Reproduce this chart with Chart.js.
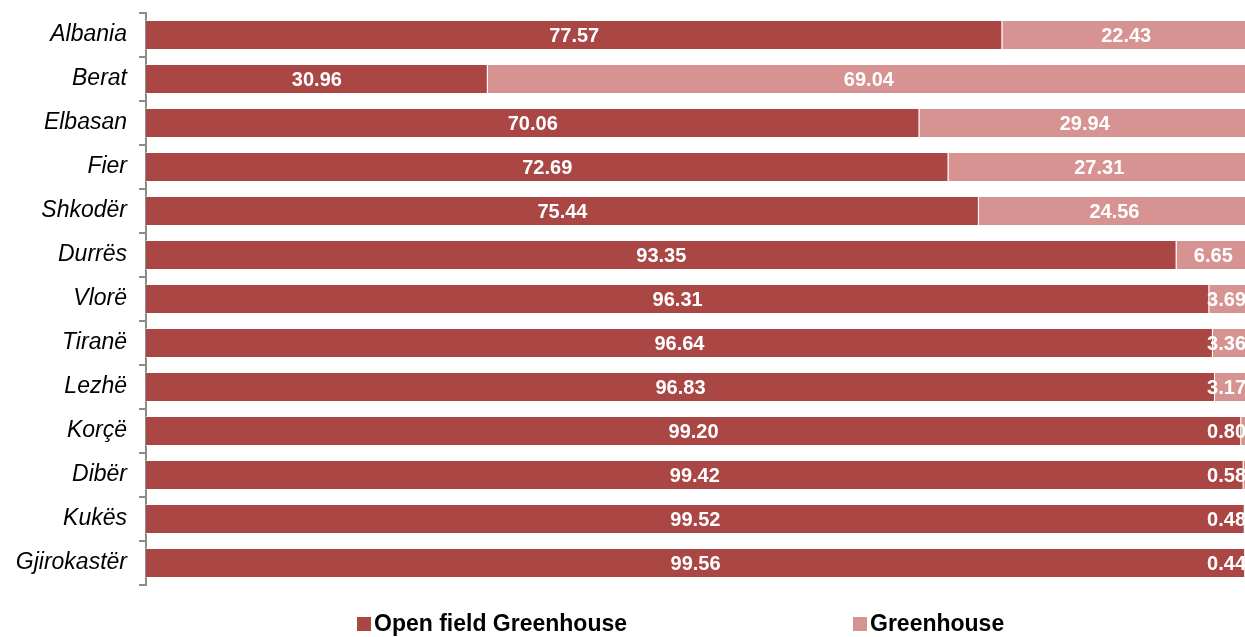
<!DOCTYPE html>
<html>
<head>
<meta charset="utf-8">
<script src="https://cdn.jsdelivr.net/npm/chart.js@4.4.1/dist/chart.umd.min.js"></script>
<style>
    html, body { margin: 0; padding: 0; background: #fff; overflow: hidden; }
    #wrap { width: 1252px; height: 637px; }
</style>
</head>
<body>
<div id="wrap"><canvas id="shareChart"></canvas></div>
<script>
// Share of vegetable area by district (%)
const districts = ['Albania', 'Berat', 'Elbasan', 'Fier', 'Shkodër', 'Durrës', 'Vlorë',
    'Tiranë', 'Lezhë', 'Korçë', 'Dibër', 'Kukës', 'Gjirokastër'];
const openField = [77.57, 30.96, 70.06, 72.69, 75.44, 93.35, 96.31, 96.64, 96.83, 99.20, 99.42, 99.52, 99.56];
const greenhouse = [22.43, 69.04, 29.94, 27.31, 24.56, 6.65, 3.69, 3.36, 3.17, 0.80, 0.58, 0.48, 0.44];
const seriesNames = ['Open field Greenhouse', 'Greenhouse'];

const darkRed = '#AA4643';
const lightRed = '#D69391';
const axisGray = '#8C8C8C';

// white value labels, pushed back inside the plot when a segment is too thin
const valueLabels = {
    id: 'valueLabels',
    afterDatasetsDraw(chart) {
        const ctx = chart.ctx;
        const right = chart.chartArea.right;
        ctx.save();
        ctx.font = 'bold 20px Arial, "Liberation Sans", sans-serif';
        ctx.fillStyle = '#fff';
        ctx.textAlign = 'center';
        ctx.textBaseline = 'middle';
        chart.data.datasets.forEach((ds, i) => {
            chart.getDatasetMeta(i).data.forEach((bar, j) => {
                const txt = ds.data[j].toFixed(2);
                const w = ctx.measureText(txt).width;
                const left = Math.min(bar.x, bar.base);
                const segRight = Math.max(bar.x, bar.base);
                let x = (left + segRight) / 2;
                x = Math.min(x, right - w / 2 - 4);
                ctx.fillText(txt, x, bar.y + 1);
            });
        });
        ctx.restore();
    }
};

// Excel-like legend with wide gap between entries
const wideLegend = {
    id: 'wideLegend',
    afterDraw(chart) {
        const ctx = chart.ctx;
        const starts = [357, 853];
        ctx.save();
        ctx.font = 'bold 23px Arial, "Liberation Sans", sans-serif';
        ctx.textBaseline = 'middle';
        ctx.textAlign = 'left';
        chart.data.datasets.forEach((ds, i) => {
            const x = starts[i];
            const y = 624;
            ctx.fillStyle = ds.backgroundColor;
            ctx.fillRect(x, y - 7, 14, 14);
            ctx.fillStyle = '#000';
            ctx.fillText(ds.label, x + 17, y + 1);
        });
        ctx.restore();
    }
};

document.addEventListener('DOMContentLoaded', () => {
    const ctx = document.getElementById('shareChart');
    new Chart(ctx, {
        type: 'bar',
        data: {
            labels: districts,
            datasets: [{
                label: seriesNames[0],
                data: openField,
                backgroundColor: darkRed,
                borderColor: 'rgba(255,255,255,0.55)',
                borderWidth: 1,
                barPercentage: 0.68,
                categoryPercentage: 1
            }, {
                label: seriesNames[1],
                data: greenhouse,
                backgroundColor: lightRed,
                borderColor: 'rgba(255,255,255,0.55)',
                borderWidth: 1,
                barPercentage: 0.68,
                categoryPercentage: 1
            }]
        },
        options: {
            indexAxis: 'y',
            responsive: true,
            maintainAspectRatio: false,
            animation: false,
            layout: { padding: { top: 13, bottom: 52, right: 2, left: 0 } },
            plugins: {
                legend: { display: false },
                tooltip: { enabled: false }
            },
            scales: {
                x: {
                    stacked: true,
                    min: 0,
                    max: 100,
                    display: false
                },
                y: {
                    stacked: true,
                    afterFit(scale) {
                        scale.width = 146;
                        scale.paddingTop = 0;
                        scale.paddingBottom = 0;
                    },
                    border: { display: true, color: axisGray, width: 2 },
                    grid: {
                        offset: true,
                        drawOnChartArea: false,
                        drawTicks: true,
                        tickLength: 7,
                        color: axisGray,
                        lineWidth: 2
                    },
                    ticks: {
                        color: '#000',
                        padding: 12,
                        font: { family: 'Arial, "Liberation Sans", sans-serif', size: 23, style: 'italic' }
                    }
                }
            }
        },
        plugins: [valueLabels, wideLegend]
    });
});
</script>
</body>
</html>
